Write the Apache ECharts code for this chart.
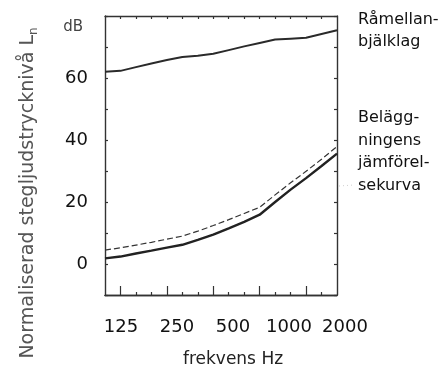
<!DOCTYPE html>
<html>
<head>
<meta charset="utf-8">
<script src="https://cdn.jsdelivr.net/npm/echarts@6.0.0/dist/echarts.min.js"></script>
<style>
    html, body {margin: 0; padding: 0; background: #fff;}
    #chart {width: 444px; height: 365px;}
</style>
</head>
<body>
<div id="chart"></div>
<script>
// tersband 100 .. 3150 Hz
const bands = ['100', '125', '160', '200', '250', '315', '400', '500', '630', '800', '1000', '1250', '1600', '2000', '2500', '3150'];
const freqLabels = ['125', '250', '500', '1000', '2000'];
const yLabels = [0, 20, 40, 60];

const ramellan = [62.0, 62.3, 63.5, 64.7, 65.8, 66.8, 67.2, 67.8, 69.0, 70.2, 71.3, 72.4, 72.7, 73.0, 74.2, 75.4];
const belaggning = [1.8, 2.4, 3.4, 4.3, 5.3, 6.2, 7.8, 9.5, 11.5, 13.6, 15.9, 20.0, 24.0, 27.7, 31.6, 35.6];
const jamforelse = [4.5, 5.2, 6.1, 7.0, 8.0, 9.0, 10.6, 12.4, 14.3, 16.3, 18.3, 22.3, 26.2, 29.9, 33.8, 37.9];

const font = 'DejaVu Sans';
const ink = '#111';
const boxLine = {show: true, onZero: false, lineStyle: {color: '#333', width: 1.4}};
const tickStyle = {color: '#333', width: 1.2};

const chart = echarts.init(document.getElementById('chart'));

chart.setOption({
    animation: false,
    grid: [
        {left: 105, right: 107, top: 16, bottom: 70, outerBoundsMode: 'none'},
        // bara för frekvensetiketterna
        {left: 121, right: 99, top: 16, bottom: 70, outerBoundsMode: 'none'}
    ],
    xAxis: [
        {
            type: 'category', gridIndex: 0, position: 'bottom', data: bands, boundaryGap: false,
            axisLine: boxLine,
            axisTick: {show: true, inside: true, length: 9, interval: (i) => i % 3 === 1, lineStyle: tickStyle},
            axisLabel: {show: false},
            splitLine: {show: false}
        },
        {
            type: 'category', gridIndex: 0, position: 'bottom', data: bands, boundaryGap: false,
            axisLine: boxLine,
            axisTick: {show: true, inside: true, length: 3, interval: (i) => i % 3 !== 1 && i > 0 && i < 15, lineStyle: tickStyle},
            axisLabel: {show: false},
            splitLine: {show: false}
        },
        {
            type: 'category', gridIndex: 0, position: 'top', data: bands, boundaryGap: false,
            axisLine: boxLine,
            axisTick: {show: true, inside: true, length: 3, interval: (i) => i > 0 && i < 15, lineStyle: tickStyle},
            axisLabel: {show: false},
            splitLine: {show: false}
        },
        {
            type: 'category', gridIndex: 1, position: 'bottom', data: freqLabels, boundaryGap: false,
            axisLine: {show: false, onZero: false},
            axisTick: {show: false},
            axisLabel: {interval: 0, margin: 23, color: ink, fontFamily: font, fontSize: 18},
            splitLine: {show: false},
            name: 'frekvens Hz',
            nameLocation: 'middle',
            nameGap: 56,
            nameTextStyle: {color: '#222', fontFamily: font, fontSize: 17}
        }
    ],
    yAxis: [
        {
            type: 'value', gridIndex: 0, position: 'left', min: -10, max: 80, interval: 10,
            axisLine: boxLine,
            axisTick: {show: true, inside: true, length: 3, lineStyle: tickStyle},
            axisLabel: {
                margin: 17, color: ink, fontFamily: font, fontSize: 18,
                formatter: (v) => yLabels.includes(v) ? String(v) : ''
            },
            splitLine: {show: false}
        },
        {
            type: 'value', gridIndex: 0, position: 'right', min: -10, max: 80, interval: 10,
            axisLine: boxLine,
            axisTick: {show: true, inside: true, length: 3, lineStyle: tickStyle},
            axisLabel: {show: false},
            splitLine: {show: false}
        },
        {type: 'value', gridIndex: 1, show: false}
    ],
    series: [
        {
            name: 'Råmellanbjälklag', type: 'line', xAxisIndex: 0, yAxisIndex: 0,
            data: ramellan, symbol: 'none',
            lineStyle: {color: '#2a2a2a', width: 2}
        },
        {
            name: 'Beläggning', type: 'line', xAxisIndex: 0, yAxisIndex: 0,
            data: belaggning, symbol: 'none',
            lineStyle: {color: '#222', width: 2.4}
        },
        {
            name: 'Jämförelsekurva', type: 'line', xAxisIndex: 0, yAxisIndex: 0,
            data: jamforelse, symbol: 'none',
            lineStyle: {color: '#333', width: 1.2, type: [6, 3]}
        }
    ],
    graphic: [
        {
            type: 'text', x: 28, y: 193, rotation: Math.PI / 2,
            style: {
                text: 'Normaliserad stegljudstrycknivå L{n|n}',
                fontFamily: font, fontSize: 19, fill: '#555', lineHeight: 24,
                align: 'center', verticalAlign: 'middle',
                rich: {n: {fontFamily: font, fontSize: 12, fill: '#555', lineHeight: 12, verticalAlign: 'bottom'}}
            }
        },
        {
            type: 'text', x: 83, y: 27,
            style: {text: 'dB', fontFamily: font, fontSize: 15, fill: '#444', align: 'right', verticalAlign: 'middle'}
        },
        {
            type: 'text', x: 358, y: 9,
            style: {text: 'Råmellan-\nbjälklag', fontFamily: font, fontSize: 16, lineHeight: 22, fill: ink}
        },
        {
            type: 'text', x: 358, y: 107,
            style: {text: 'Belägg-\nningens\njämförel-\nsekurva', fontFamily: font, fontSize: 16, lineHeight: 22.5, fill: ink}
        },
        {
            type: 'line', shape: {x1: 339, y1: 186, x2: 354, y2: 185},
            style: {stroke: '#cfcfcf', lineWidth: 1, lineDash: [1, 3]}
        }
    ]
});
</script>
</body>
</html>
